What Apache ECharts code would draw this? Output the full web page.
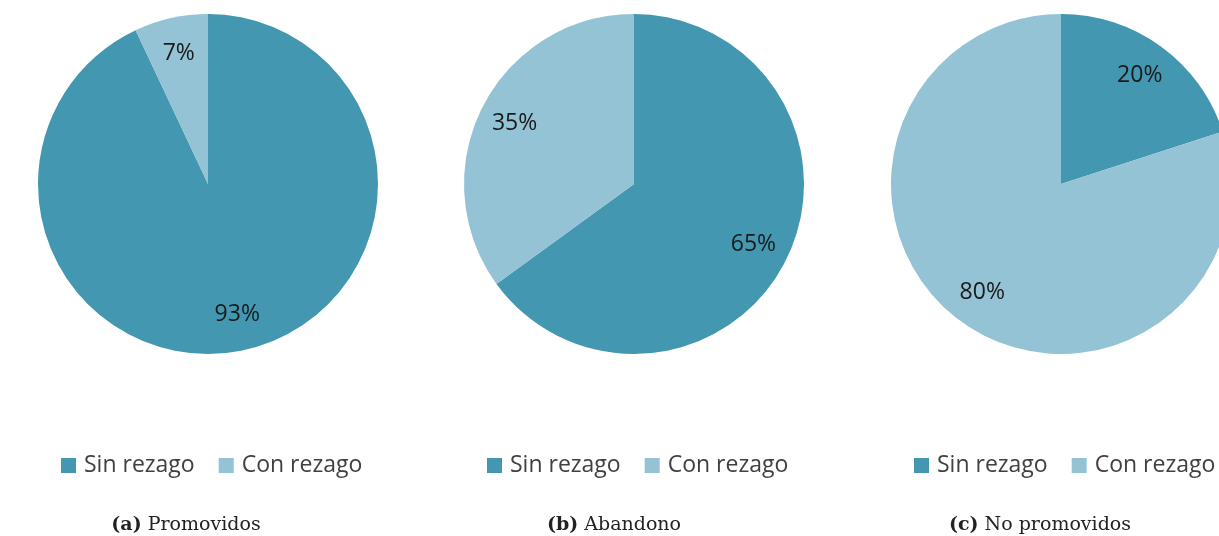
<!DOCTYPE html>
<html>
<head>
<meta charset="utf-8">
<script src="https://cdn.jsdelivr.net/npm/echarts@6/dist/echarts.min.js"></script>
<style>
html,body{margin:0;padding:0;background:#fff;}
#main{width:1219px;height:536px;}
</style>
</head>
<body>
<div id="main"></div>
<script>
var categories = ['Sin rezago', 'Con rezago'];
var promovidos = [93, 7];
var abandono = [65, 35];
var noPromovidos = [20, 80];
var letras = ['(a)', '(b)', '(c)'];
var captions = ['Promovidos', 'Abandono', 'No promovidos'];

var colores = ['#4397b0', '#93c3d5'];
var centros = [[208, 184], [634, 184], [1061, 184]];
var legendX = [61, 487, 914];
var captionX = [186, 614, 1040];
var valores = [promovidos, abandono, noPromovidos];

var toData = function (vals, transparent) {
    var res = [];
    for (var i = 0; i < vals.length; i++) {
        res.push({
            name: categories[i],
            value: vals[i],
            itemStyle: {color: transparent ? 'rgba(0,0,0,0)' : colores[i]}
        });
    }
    return res;
};

var series = [], legends = [], titles = [];
for (var k = 0; k < 3; k++) {
    // pie
    series.push({
        type: 'pie',
        center: centros[k],
        radius: [0, 170],
        startAngle: 90,
        clockwise: true,
        animation: false,
        silent: true,
        label: {show: false},
        labelLine: {show: false},
        itemStyle: {borderWidth: 0},
        data: toData(valores[k], false)
    });
    // transparent ring, only there to place the labels
    series.push({
        type: 'pie',
        center: centros[k],
        radius: [92, 170],
        startAngle: 90,
        clockwise: true,
        animation: false,
        silent: true,
        label: {
            show: true,
            position: 'inside',
            formatter: '{c}%',
            fontFamily: 'Open Sans',
            fontSize: 23,
            color: '#1a1a1a'
        },
        labelLine: {show: false},
        data: toData(valores[k], true)
    });
    legends.push({
        left: legendX[k],
        top: 454,
        padding: 0,
        itemWidth: 15,
        itemHeight: 15,
        itemGap: 24,
        icon: 'rect',
        selectedMode: false,
        textStyle: {fontFamily: 'Open Sans', fontSize: 23, color: '#404040', padding: [0, 0, 0, 3]},
        data: [
            {name: categories[0], itemStyle: {color: colores[0]}},
            {name: categories[1], itemStyle: {color: colores[1]}}
        ]
    });
    titles.push({
        text: '{b|' + letras[k] + '} ' + captions[k],
        left: captionX[k],
        top: 516,
        textAlign: 'center',
        padding: 0,
        textStyle: {
            fontFamily: 'DejaVu Serif',
            fontSize: 19,
            fontWeight: 'normal',
            color: '#222',
            rich: {
                b: {fontFamily: 'DejaVu Serif', fontSize: 19, fontWeight: 'bold', color: '#222'}
            }
        }
    });
}

var chart = echarts.init(document.getElementById('main'));
chart.setOption({
    animation: false,
    title: titles,
    legend: legends,
    series: series
});
</script>
</body>
</html>
